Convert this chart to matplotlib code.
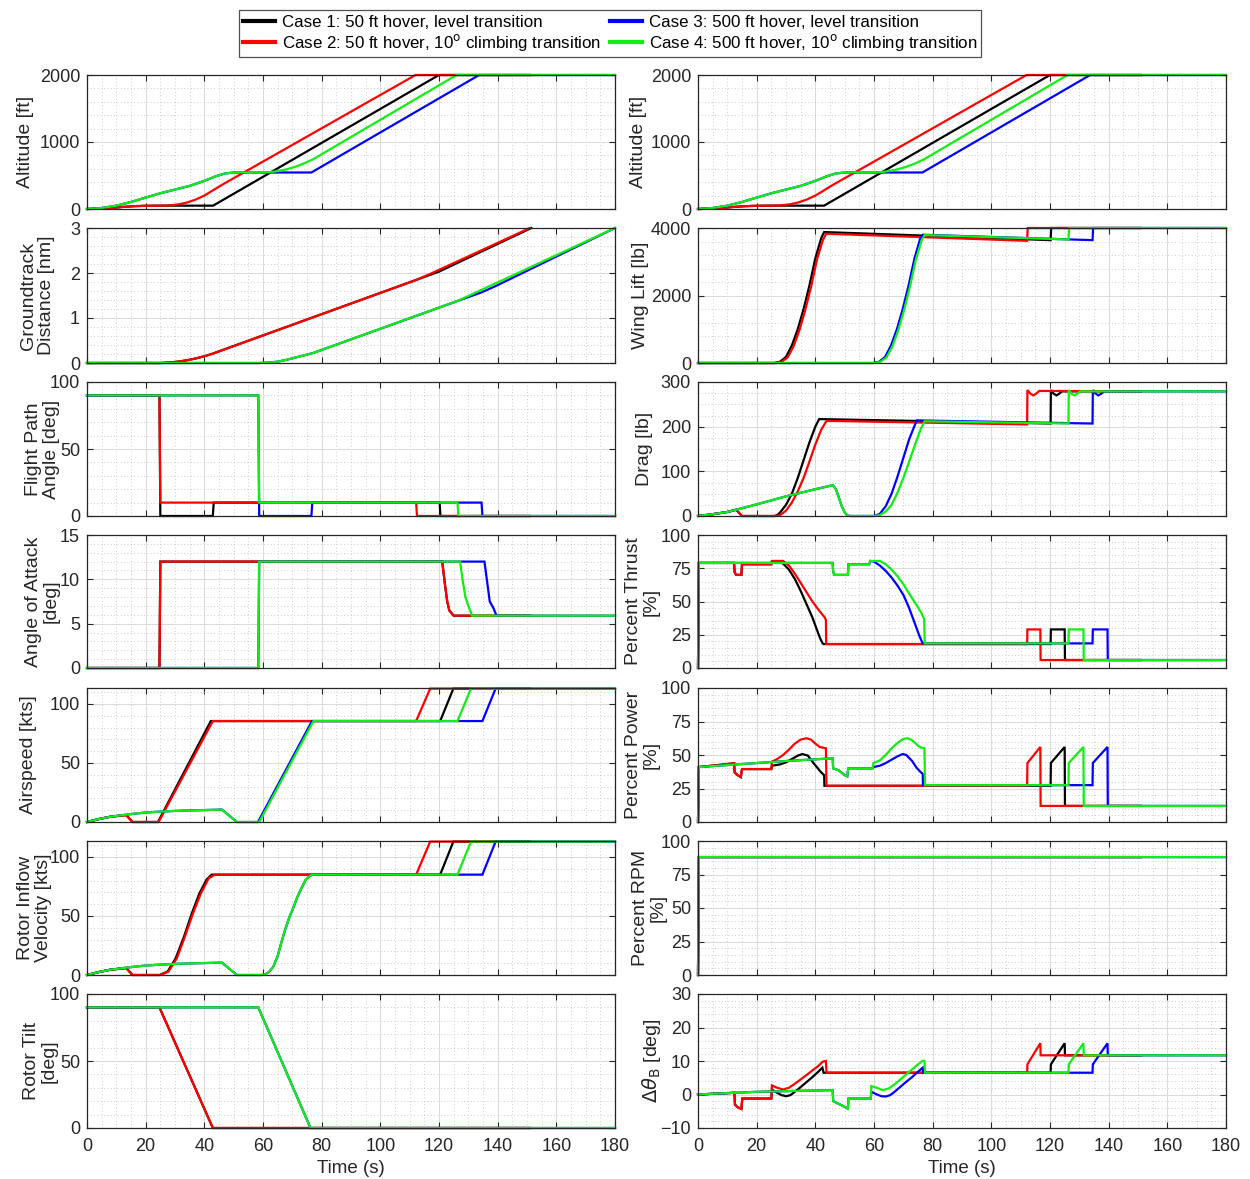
import matplotlib
matplotlib.use("Agg")
import matplotlib.pyplot as plt
from matplotlib.ticker import MultipleLocator
from matplotlib.lines import Line2D

plt.rcParams["font.family"] = ["Liberation Sans", "DejaVu Sans"]
plt.rcParams["mathtext.fontset"] = "dejavusans"

case_labels = ["Case 1: 50 ft hover, level transition",
               "Case 2: 50 ft hover, 10$^{\\mathrm{o}}$ climbing transition",
               "Case 3: 500 ft hover, level transition",
               "Case 4: 500 ft hover, 10$^{\\mathrm{o}}$ climbing transition"]
case_colors = ["#000000", "#ff0000", "#0000ff", "#11ee11"]

# (time [s], value) breakpoints for each case
alt_case1 = [(0, 0), (4, 4), (8, 15), (12, 30), (16, 42), (20, 48), (24, 50), (43, 50), (120, 2000), (151, 2000)]
alt_case2 = [(0, 0), (4, 4), (8, 15), (12, 30), (16, 42), (20, 48), (25, 50), (28, 54), (31, 68), (34, 95),
             (37, 140), (40, 200), (43, 280), (46, 360), (112, 2000), (151, 2000)]
alt_case3 = [(0, 0), (5, 15), (10, 50), (15, 105), (20, 170), (25, 235), (30, 290), (35, 345), (40, 420),
             (44, 490), (47, 530), (50, 545), (76.5, 545), (133.7, 2000), (180, 2000)]
alt_case4 = [(0, 0), (5, 15), (10, 50), (15, 105), (20, 170), (25, 235), (30, 290), (35, 345), (40, 420),
             (44, 490), (47, 530), (50, 545), (62, 549), (65, 565), (68, 592), (71, 630), (74, 680),
             (77.2, 745), (126, 2000), (180, 2000)]

dist_case1 = [(0, 0), (25, 0), (28, 0.01), (31, 0.03), (34, 0.06), (37, 0.10), (40, 0.15), (42.5, 0.20),
              (120, 2.03), (124.5, 2.17), (151.5, 3.0)]
dist_case2 = [(0, 0), (25, 0), (28, 0.01), (31, 0.03), (34, 0.06), (37, 0.10), (40, 0.15), (43, 0.21),
              (112, 1.84), (117, 1.98), (151, 3.0)]
dist_case3 = [(0, 0), (58.7, 0), (62, 0.01), (65, 0.03), (68, 0.07), (71, 0.12), (74, 0.17), (77, 0.22),
              (134.5, 1.57), (139, 1.70), (180, 3.0)]
dist_case4 = [(0, 0), (58.7, 0), (62, 0.01), (65, 0.03), (68, 0.07), (71, 0.12), (74, 0.17), (77, 0.22),
              (126.3, 1.38), (131, 1.52), (180, 3.0)]

fpa_case1 = [(0, 90), (24.7, 90), (25.0, 0), (42.9, 0), (43.2, 10), (120.2, 10), (120.5, 0), (151, 0)]
fpa_case2 = [(0, 90), (24.7, 90), (25.0, 10), (112.2, 10), (112.5, 0), (151, 0)]
fpa_case3 = [(0, 90), (58.4, 90), (58.7, 0), (76.5, 0), (76.8, 10), (134.5, 10), (134.8, 0), (180, 0)]
fpa_case4 = [(0, 90), (58.4, 90), (58.7, 10), (126.3, 10), (126.6, 0), (180, 0)]

aoa_case1 = [(0, 0), (24.7, 0), (25.0, 12), (121.1, 12), (122, 9.5), (122.8, 7.5), (123.5, 6.5), (125, 5.9), (151, 5.9)]
aoa_case2 = [(0, 0), (24.7, 0), (25.0, 12), (121.1, 12), (122, 9.5), (122.8, 7.5), (123.5, 6.5), (125, 5.9), (151, 5.9)]
aoa_case3 = [(0, 0), (58.4, 0), (58.7, 12), (135.5, 12), (136.5, 9.5), (137.3, 7.5), (138.5, 6.8), (139.6, 5.9), (180, 5.9)]
aoa_case4 = [(0, 0), (58.4, 0), (58.7, 12), (127.2, 12), (128, 10), (129, 8), (130, 7), (131.3, 5.9), (180, 5.9)]

speed_case1 = [(0, 0), (4, 2.5), (8, 4.5), (12, 5.5), (13.4, 5.8), (15.5, 0), (24.2, 0), (42.2, 85.5),
               (120.4, 85.5), (124.9, 113), (151, 113)]
speed_case2 = [(0, 0), (4, 2.5), (8, 4.5), (12, 5.5), (13.4, 5.8), (15.5, 0), (24.4, 0), (42.9, 85.5),
               (112.2, 85.5), (117, 113), (151, 113)]
speed_case3 = [(0, 0), (4, 2.5), (8, 4.5), (12, 5.8), (16, 7), (20, 8), (25, 8.8), (30, 9.4), (35, 9.8),
               (40, 10.1), (46, 10.5), (51.1, 0), (58.3, 0), (76.7, 85.5), (134.8, 85.5), (139.3, 113), (180, 113)]
speed_case4 = [(0, 0), (4, 2.5), (8, 4.5), (12, 5.8), (16, 7), (20, 8), (25, 8.8), (30, 9.4), (35, 9.8),
               (40, 10.1), (46, 10.5), (51.1, 0), (58.7, 0), (77.2, 85.5), (126.3, 85.5), (130.9, 113), (180, 113)]

inflow_case1 = [(0, 0), (4, 2.5), (8, 4.5), (12, 5.5), (13.4, 5.8), (15.5, 0), (24.8, 0), (27.5, 3), (30.2, 14),
                (33, 32), (35.7, 52), (38.3, 69), (40.8, 81), (42.5, 85), (120.4, 85), (124.9, 113), (151, 113)]
inflow_case2 = [(0, 0), (4, 2.5), (8, 4.5), (12, 5.5), (13.4, 5.8), (15.5, 0), (25.1, 0), (27.8, 3), (30.6, 14),
                (33.3, 32), (36.1, 52), (38.8, 69), (41.5, 82), (43.6, 85), (112.2, 85), (117, 113), (151, 113)]
inflow_case3 = [(0, 0), (4, 2.5), (8, 4.5), (12, 5.8), (16, 7), (20, 8), (25, 8.8), (30, 9.4), (35, 9.8),
                (40, 10.1), (46, 10.5), (51.1, 0), (59.5, 0), (60.7, 0.5), (62, 2.5), (63.5, 7), (65, 16),
                (66.2, 27), (67.5, 38), (69, 49), (70.5, 58), (71.7, 66), (73, 73), (74.4, 80), (76, 84),
                (77, 85), (134.8, 85), (139.3, 113), (180, 113)]
inflow_case4 = [(0, 0), (4, 2.5), (8, 4.5), (12, 5.8), (16, 7), (20, 8), (25, 8.8), (30, 9.4), (35, 9.8),
                (40, 10.1), (46, 10.5), (51.1, 0), (59.5, 0), (60.7, 0.5), (62, 2.5), (63.5, 7), (65, 16),
                (66.2, 27), (67.5, 38), (69, 49), (70.5, 58), (71.7, 66), (73, 73), (74.4, 80), (76, 84),
                (77, 85), (126.3, 85), (130.9, 113), (180, 113)]

tilt_case1 = [(0, 90), (24.7, 90), (42.9, 0), (151, 0)]
tilt_case2 = [(0, 90), (24.7, 90), (42.9, 0), (151, 0)]
tilt_case3 = [(0, 90), (58.4, 90), (76.2, 0), (180, 0)]
tilt_case4 = [(0, 90), (58.4, 90), (76.2, 0), (180, 0)]

lift_case1 = [(0, 0), (26, 0), (28, 40), (30, 180), (32, 520), (34, 1000), (36, 1600), (38, 2300), (40, 3100),
              (42, 3700), (43, 3880), (120.2, 3640), (120.4, 4000), (151, 4000)]
lift_case2 = [(0, 0), (26.6, 0), (28.6, 40), (30.6, 170), (32.6, 500), (34.6, 980), (36.6, 1580), (38.6, 2280),
              (40.6, 3080), (42.6, 3650), (43.7, 3830), (112.2, 3620), (112.4, 4000), (151, 4000)]
lift_case3 = [(0, 0), (59.8, 0), (61.8, 40), (63.8, 180), (65.8, 520), (67.8, 1000), (69.8, 1600), (71.8, 2300),
              (73.8, 3100), (75.8, 3700), (76.7, 3800), (134.5, 3640), (134.7, 4000), (180, 4000)]
lift_case4 = [(0, 0), (60.3, 0), (62.3, 40), (64.3, 170), (66.3, 500), (68.3, 980), (70.3, 1580), (72.3, 2280),
              (74.3, 3080), (76.3, 3650), (77.3, 3790), (126.3, 3660), (126.5, 4000), (180, 4000)]

drag_case1 = [(0, 0), (5, 4), (10, 9), (13, 14), (15, 0), (26, 0), (27, 2), (28, 8), (30, 25), (32, 50),
              (34, 85), (36, 125), (38, 165), (40, 200), (41.3, 217), (120.2, 207), (120.3, 282), (121.2, 274),
              (122.2, 270), (123.2, 274), (124, 279), (151, 279)]
drag_case2 = [(0, 0), (5, 4), (10, 9), (13, 14), (15, 0), (26.5, 0), (28, 2), (30, 12), (32, 30), (34, 55),
              (36, 85), (38, 122), (40, 160), (42, 193), (43.8, 213), (112.2, 205), (112.3, 282), (113.3, 274),
              (114.3, 270), (115.3, 274), (116.3, 280), (151, 279)]
drag_case3 = [(0, 0), (5, 4), (10, 9), (13, 14), (20, 26), (25, 35), (30, 44), (35, 52), (40, 60), (44, 66),
              (46, 69), (47, 60), (48, 42), (49, 22), (50, 8), (51, 1), (52, 0), (59.8, 0), (61, 2), (62, 5),
              (64, 22), (66, 50), (68, 88), (70, 130), (72, 172), (74, 205), (74.6, 214), (134.5, 207),
              (134.6, 282), (135.5, 274), (136.5, 270), (137.5, 274), (138.5, 279), (180, 279)]
drag_case4 = [(0, 0), (5, 4), (10, 9), (13, 14), (20, 26), (25, 35), (30, 44), (35, 52), (40, 60), (44, 66),
              (46, 69), (47, 60), (48, 42), (49, 22), (50, 8), (51, 1), (52, 0), (60.2, 0), (62, 2), (64, 10),
              (66, 25), (68, 52), (70, 85), (72, 122), (74, 160), (76, 196), (77.3, 212), (126.3, 207),
              (126.4, 282), (127.3, 274), (128.3, 270), (129.3, 274), (130.3, 279), (180, 279)]

thrust_case1 = [(0, 0), (0.3, 79), (12.3, 79), (12.5, 72), (13, 70), (14.8, 70), (15, 78), (25, 78), (25.2, 80),
                (27.5, 80), (29, 78.5), (31, 74), (33, 67), (35, 58), (37, 48), (39, 38), (40, 32), (41, 26),
                (41.7, 22), (42.5, 18.5), (42.8, 18), (120.2, 18), (120.3, 29), (125, 29), (125.1, 6), (151, 6)]
thrust_case2 = [(0, 0), (0.3, 79), (12.3, 79), (12.5, 72), (13, 70), (14.8, 70), (15, 78), (25, 78), (25.2, 80.5),
                (29, 80.5), (31, 77), (33, 71), (35, 64), (37, 57), (39, 50), (41, 44), (43.2, 38), (43.6, 36),
                (43.7, 18), (112.2, 18), (112.3, 29), (116.7, 29), (116.8, 6), (151, 6)]
thrust_case3 = [(0, 0), (0.3, 79), (45.9, 79), (46.1, 72), (46.5, 70), (51.1, 70), (51.3, 78), (58.4, 78),
                (58.7, 80.5), (60, 80), (62, 77), (64, 73), (66, 68), (68, 62), (70, 55), (72, 45), (74, 33),
                (75.5, 24), (76.5, 19), (76.7, 18.5), (134.5, 18.5), (134.6, 29), (139.6, 29), (139.7, 6), (180, 6)]
thrust_case4 = [(0, 0), (0.3, 79), (45.9, 79), (46.1, 72), (46.5, 70), (51.1, 70), (51.3, 78), (58.4, 78),
                (58.7, 80.5), (62, 80.5), (64, 78), (66, 74), (68, 69), (70, 63), (72, 56), (74, 49), (76, 42),
                (77.1, 37), (77.3, 18.5), (126.3, 18.5), (126.4, 29), (131.4, 29), (131.5, 6), (180, 6)]

power_case1 = [(0, 0), (0.3, 41), (12.3, 43.8), (12.5, 37), (13.5, 35), (14.6, 33.5), (15, 39.5), (25, 39.5),
               (25.2, 42), (28, 43), (30, 44.5), (32, 47), (34, 49.5), (35.6, 50.7), (37.5, 49.5), (39, 45),
               (40.5, 41), (42, 37), (43, 35), (43.1, 27), (120.2, 27), (120.3, 44), (125, 56), (125.1, 12), (151, 12)]
power_case2 = [(0, 0), (0.3, 41), (12.3, 43.8), (12.5, 37), (13.5, 35), (14.6, 33.5), (15, 39.5), (25, 39.5),
               (25.2, 45), (27, 47), (29, 50), (31, 54), (33, 58.5), (35, 61.5), (37, 62.5), (38.5, 61.5),
               (40, 58.5), (41.5, 56), (43.6, 55), (43.8, 27), (112.2, 27), (112.3, 44), (116.7, 56),
               (116.8, 12), (151, 12)]
power_case3 = [(0, 0), (0.3, 41), (10, 42.5), (20, 44), (30, 45.5), (40, 46.8), (45.9, 47.5), (46.1, 40),
               (48, 38.5), (50, 35), (50.9, 34), (51.2, 40), (59.5, 40), (59.8, 41), (62, 42), (64, 44),
               (66, 46.5), (68, 49), (69.8, 50.7), (71, 50), (73, 45.5), (74.5, 40.5), (76, 37), (76.6, 36),
               (76.7, 27.5), (134.5, 27.5), (134.6, 44), (139.6, 56), (139.7, 12), (180, 12)]
power_case4 = [(0, 0), (0.3, 41), (10, 42.5), (20, 44), (30, 45.5), (40, 46.8), (45.9, 47.5), (46.1, 40),
               (48, 38.5), (50, 35), (50.9, 34), (51.2, 40), (59.5, 40), (59.8, 44), (62, 46), (64, 50),
               (66, 55), (68, 59), (70, 62), (71.5, 62.5), (73, 61), (75, 57), (76, 55.5), (77.2, 55),
               (77.4, 27.5), (126.3, 27.5), (126.4, 44), (131.4, 56), (131.5, 12), (180, 12)]

rpm_case1 = [(0, 0), (0.3, 88), (151, 88)]
rpm_case2 = [(0, 0), (0.3, 88), (151, 88)]
rpm_case3 = [(0, 0), (0.3, 88), (180, 88)]
rpm_case4 = [(0, 0), (0.3, 88), (180, 88)]

dtheta_case1 = [(0, 0), (12.4, 0.5), (12.6, -3), (13.5, -3.8), (14.8, -4.3), (15.1, -1.2), (25, -1.2),
                (25.2, 1.5), (27, 0.5), (28.5, -0.2), (30, -0.5), (31.5, -0.2), (33, 0.8), (35, 2.2),
                (37, 3.7), (39, 5.2), (41, 6.8), (42.4, 8), (42.8, 6.5), (120.2, 6.5), (120.3, 9),
                (125, 15.3), (125.1, 11.7), (151, 11.7)]
dtheta_case2 = [(0, 0), (12.4, 0.5), (12.6, -3), (13.5, -3.8), (14.8, -4.3), (15.1, -1.2), (25, -1.2),
                (25.2, 2.7), (27, 2), (29, 1.5), (31, 2), (33, 3.2), (35, 4.5), (37, 5.8), (39, 7.2),
                (41, 8.5), (42.5, 9.8), (43.6, 10), (43.8, 6.5), (112.2, 6.5), (112.3, 9), (116.7, 15.3),
                (116.8, 11.7), (151, 11.7)]
dtheta_case3 = [(0, 0), (12, 0.5), (20, 0.8), (30, 1.0), (40, 1.2), (45.9, 1.3), (46.1, -2), (48, -2.8),
                (50, -3.7), (51.1, -4.2), (51.3, -1.2), (58.9, -1.2), (59.1, 0.8), (61, 0), (62.5, -0.5),
                (64, -0.6), (65.5, -0.2), (67, 0.8), (69, 2.3), (71, 3.8), (73, 5.2), (75, 6.8), (76.6, 8),
                (76.8, 6.5), (134.5, 6.5), (134.6, 9), (139.6, 15.3), (139.7, 11.7), (180, 11.7)]
dtheta_case4 = [(0, 0), (12, 0.5), (20, 0.8), (30, 1.0), (40, 1.2), (45.9, 1.3), (46.1, -2), (48, -2.8),
                (50, -3.7), (51.1, -4.2), (51.3, -1.2), (58.9, -1.2), (59.1, 2.5), (61, 2), (63, 1.3),
                (65, 1.8), (67, 3), (69, 4.5), (71, 6), (73, 7.5), (75, 9), (76.5, 10), (77.2, 10),
                (77.4, 6.5), (126.3, 6.5), (126.4, 9), (131.4, 15.3), (131.5, 11.7), (180, 11.7)]

altitude = [alt_case1, alt_case2, alt_case3, alt_case4]
distance = [dist_case1, dist_case2, dist_case3, dist_case4]
fpa = [fpa_case1, fpa_case2, fpa_case3, fpa_case4]
aoa = [aoa_case1, aoa_case2, aoa_case3, aoa_case4]
speed = [speed_case1, speed_case2, speed_case3, speed_case4]
inflow = [inflow_case1, inflow_case2, inflow_case3, inflow_case4]
tilt = [tilt_case1, tilt_case2, tilt_case3, tilt_case4]
lift = [lift_case1, lift_case2, lift_case3, lift_case4]
drag = [drag_case1, drag_case2, drag_case3, drag_case4]
thrust = [thrust_case1, thrust_case2, thrust_case3, thrust_case4]
power = [power_case1, power_case2, power_case3, power_case4]
rpm = [rpm_case1, rpm_case2, rpm_case3, rpm_case4]
dtheta = [dtheta_case1, dtheta_case2, dtheta_case3, dtheta_case4]

# label, data, ylim, major step, minor step, label offset from axis (px)
left_panels = [
    ("Altitude [ft]", altitude, (0, 2000), 1000, 200, 53),
    ("Groundtrack\nDistance [nm]", distance, (0, 3), 1, 0.2, 32),
    ("Flight Path\nAngle [deg]", fpa, (0, 100), 50, 10, 27),
    ("Angle of Attack\n[deg]", aoa, (0, 15), 5, 1, 27),
    ("Airspeed [kts]", speed, (0, 113.5), 50, 10, 50),
    ("Rotor Inflow\nVelocity [kts]", inflow, (0, 113.5), 50, 10, 35),
    ("Rotor Tilt\n[deg]", tilt, (0, 100), 50, 10, 29),
]
right_panels = [
    ("Altitude [ft]", altitude, (0, 2000), 1000, 200, 51),
    ("Wing Lift [lb]", lift, (0, 4000), 2000, 400, 49),
    ("Drag [lb]", drag, (0, 300), 100, 25, 45),
    ("Percent Thrust\n[%]", thrust, (0, 100), 25, 5, 38),
    ("Percent Power\n[%]", power, (0, 100), 25, 5, 38),
    ("Percent RPM\n[%]", rpm, (0, 100), 25, 5, 31),
    (r"$\Delta\theta_{\mathrm{B}}$ [deg]", dtheta, (-10, 30), 10, 2, 35),
]

W, H = 1250, 1179
rows_px = [(75, 209), (228, 363), (382, 516), (535, 668), (688, 822), (841, 975), (994, 1128)]
cols_px = [(87, 615), (698, 1226)]
axis_color = "#262626"

fig = plt.figure(figsize=(W / 100, H / 100), dpi=100)


def draw_panel(ax, label, data, ylim, major, minor, offset, bottom):
    for pts, color in zip(data, case_colors):
        t = [p[0] for p in pts]
        v = [p[1] for p in pts]
        ax.plot(t, v, color=color, lw=1.6, clip_on=False, solid_joinstyle="miter")
    ax.set_xlim(0, 180)
    ax.set_ylim(*ylim)
    ax.xaxis.set_major_locator(MultipleLocator(20))
    ax.xaxis.set_minor_locator(MultipleLocator(5))
    ax.yaxis.set_major_locator(MultipleLocator(major))
    ax.yaxis.set_minor_locator(MultipleLocator(minor))
    ax.grid(which="major", color="#dadada", lw=0.7)
    ax.grid(which="minor", color="#bdbdbd", lw=0.6, linestyle=(0, (1, 3)))
    ax.set_axisbelow(True)
    ax.tick_params(which="major", direction="in", length=4, width=0.8, top=True, right=True,
                   color=axis_color, labelcolor=axis_color, labelsize=13, pad=5)
    ax.tick_params(axis="x", which="major", pad=7)
    ax.tick_params(which="minor", length=0)
    for s in ax.spines.values():
        s.set_color(axis_color)
        s.set_linewidth(0.9)
    ax.set_ylabel(label, fontsize=14, color=axis_color, linespacing=1.1)
    w = cols_px[0][1] - cols_px[0][0]
    ax.yaxis.set_label_coords(-offset / w, 0.5)
    if bottom:
        ax.set_xlabel("Time (s)", fontsize=13.5, color=axis_color, labelpad=4)
    else:
        ax.tick_params(labelbottom=False)


for col, panels in enumerate([left_panels, right_panels]):
    x0, x1 = cols_px[col]
    for r, (label, data, ylim, major, minor, offset) in enumerate(panels):
        y0, y1 = rows_px[r]
        ax = fig.add_axes([x0 / W, 1 - y1 / H, (x1 - x0) / W, (y1 - y0) / H])
        draw_panel(ax, label, data, ylim, major, minor, offset, r == len(panels) - 1)

handles = [Line2D([], [], color=c, lw=3) for c in case_colors]
leg = fig.legend(handles, case_labels, loc="upper center", bbox_to_anchor=(610 / W, 1 - 2 / H),
                 ncol=2, fontsize=12.2, frameon=True, fancybox=False, handlelength=1.9,
                 handletextpad=0.4, columnspacing=0.5, labelspacing=0.12, borderpad=0.25)
leg.get_frame().set_edgecolor(axis_color)
leg.get_frame().set_linewidth(0.9)

fig.savefig("out.png", dpi=100, facecolor="white")
